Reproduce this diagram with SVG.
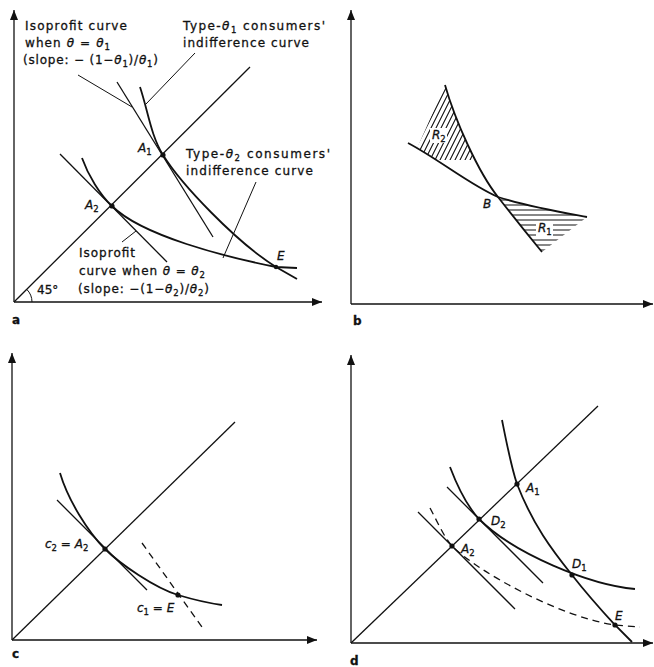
<svg xmlns="http://www.w3.org/2000/svg" width="654" height="667" viewBox="0 0 654 667">
<style>
.ax{stroke:#111;stroke-width:1.3;fill:none}
.cv{stroke:#111;stroke-width:1.8;fill:none}
.ln{stroke:#111;stroke-width:1.3;fill:none}
.ld{stroke:#111;stroke-width:1;fill:none}
.dsh{stroke-dasharray:7 5}
.h{stroke:#111;stroke-width:1.1}
.pt{fill:#111}
text{font-family:"DejaVu Sans","Liberation Sans",sans-serif;font-size:12px;fill:#111;stroke:#111;stroke-width:0.3}
.i{font-style:italic}
.s{font-size:8.5px}
.pl{font-weight:bold;font-size:12px}
</style>
<defs>
<marker id="arr" markerUnits="userSpaceOnUse" markerWidth="10" markerHeight="8" refX="10" refY="4" orient="auto">
<path d="M0,0 L10,4 L0,8 z" fill="#111"/>
</marker>
<clipPath id="cR2"><path d="M445,85 C455,120 478,172 498,197 C470,185 440,160 408,143 L445,85 Z"/></clipPath>
<clipPath id="cR2b"><path d="M448,78 L412,160 L520,160 L520,78 Z"/></clipPath>
<clipPath id="cR1"><path d="M498,197 C530,207 560,212 587,217 L542,252 C528,235 512,215 498,197 Z"/></clipPath>
</defs>
<rect width="654" height="667" fill="#fff"/>

<!-- Panel a -->
<g id="panel-a">
<g id="a-axes">
<line class="ax" x1="14" y1="302" x2="14" y2="10" marker-end="url(#arr)"/>
<line class="ax" x1="14" y1="302" x2="322" y2="302" marker-end="url(#arr)"/>
<path class="ld" d="M32,302 A18,18 0 0 0 26.7,289.3"/>
</g>
<g id="a-connectors">
<line class="ln" x1="14" y1="302" x2="250" y2="67"/>
<line class="ln" x1="117" y1="82" x2="213" y2="237"/>
<path class="cv" d="M140,87 C148,111 151,136 163,155 C181,184 236,242 276,267 L297,279"/>
<line class="ln" x1="60" y1="154" x2="167" y2="262"/>
<path class="cv" d="M82,158 C88,175 100,195 112,206 C142,236 226,257 276,267 L297,268"/>
<line class="ld" x1="78" y1="75" x2="132" y2="107"/>
<line class="ld" x1="195" y1="53" x2="146" y2="104"/>
<line class="ld" x1="256" y1="182" x2="223" y2="258"/>
<line class="ld" x1="122" y1="242" x2="136" y2="231"/>
</g>
<g id="a-A1"><circle class="pt" cx="163" cy="155" r="2.6"/><text x="138" y="152"><tspan class="i">A</tspan><tspan class="s" dy="3">1</tspan></text></g>
<g id="a-A2"><circle class="pt" cx="112" cy="206" r="2.6"/><text x="85" y="209"><tspan class="i">A</tspan><tspan class="s" dy="3">2</tspan></text></g>
<g id="a-E"><circle class="pt" cx="276" cy="267" r="2.2"/><text x="277" y="260" class="i">E</text></g>
<g id="a-labels">
<text x="25" y="30" textLength="102">Isoprofit curve</text>
<text x="25" y="47" textLength="85">when <tspan class="i">θ</tspan> = <tspan class="i">θ</tspan><tspan class="s" dy="3">1</tspan></text>
<text x="23" y="64" textLength="135">(slope: − (1−<tspan class="i">θ</tspan><tspan class="s" dy="3">1</tspan><tspan dy="-3">)/</tspan><tspan class="i">θ</tspan><tspan class="s" dy="3">1</tspan><tspan dy="-3">)</tspan></text>
<text x="183" y="30" textLength="142">Type-<tspan class="i">θ</tspan><tspan class="s" dy="3">1</tspan><tspan dy="-3"> consumers'</tspan></text>
<text x="183" y="47" textLength="126">indifference curve</text>
<text x="186" y="158" textLength="144">Type-<tspan class="i">θ</tspan><tspan class="s" dy="3">2</tspan><tspan dy="-3"> consumers'</tspan></text>
<text x="186" y="175" textLength="127">indifference curve</text>
<text x="79" y="257" textLength="56">Isoprofit</text>
<text x="79" y="275" textLength="126">curve when <tspan class="i">θ</tspan> = <tspan class="i">θ</tspan><tspan class="s" dy="3">2</tspan></text>
<text x="78" y="293" textLength="131">(slope: −(1−<tspan class="i">θ</tspan><tspan class="s" dy="3">2</tspan><tspan dy="-3">)/</tspan><tspan class="i">θ</tspan><tspan class="s" dy="3">2</tspan><tspan dy="-3">)</tspan></text>
<text x="37" y="294">45°</text>
<text x="12" y="324" class="pl">a</text>
</g>
</g>

<!-- Panel b -->
<g id="panel-b">
<g id="b-axes">
<line class="ax" x1="351" y1="304" x2="351" y2="10" marker-end="url(#arr)"/>
<line class="ax" x1="351" y1="304" x2="653" y2="304" marker-end="url(#arr)"/>
</g>
<g id="R2">
<g clip-path="url(#cR2)"><g clip-path="url(#cR2b)">
<path class="h" d="M380,210 l65,-130 M385,210 l65,-130 M390,210 l65,-130 M395,210 l65,-130 M400,210 l65,-130 M405,210 l65,-130 M410,210 l65,-130 M415,210 l65,-130 M420,210 l65,-130 M425,210 l65,-130 M430,210 l65,-130 M435,210 l65,-130 M440,210 l65,-130 M445,210 l65,-130 M450,210 l65,-130 M455,210 l65,-130 M460,210 l65,-130 M465,210 l65,-130 M470,210 l65,-130 M475,210 l65,-130 M480,210 l65,-130 M485,210 l65,-130 M490,210 l65,-130"/>
</g></g>
<rect x="430" y="128" width="17" height="15" fill="#fff"/>
<text x="432" y="139" class="i">R<tspan class="s" dy="3" font-style="normal">2</tspan></text>
</g>
<g id="R1">
<g clip-path="url(#cR1)">
<path class="h" d="M490,200 H600 M490,205 H600 M490,210 H600 M490,215 H600 M490,220 H600 M490,225 H600 M490,230 H600 M490,235 H600 M490,240 H600 M490,245 H600 M490,250 H600"/>
</g>
<rect x="536" y="221" width="17" height="15" fill="#fff"/>
<text x="538" y="232" class="i">R<tspan class="s" dy="3" font-style="normal">1</tspan></text>
</g>
<g id="b-connectors">
<path class="cv" d="M408,143 C440,160 470,185 498,197 C530,207 560,212 587,217"/>
<path class="cv" d="M445,85 C455,120 478,172 498,197 C512,215 528,235 542,252"/>
</g>
<g id="B"><text x="483" y="208" class="i">B</text></g>
<text x="353" y="325" class="pl">b</text>
</g>

<!-- Panel c -->
<g id="panel-c">
<g id="c-axes">
<line class="ax" x1="12" y1="640" x2="12" y2="353" marker-end="url(#arr)"/>
<line class="ax" x1="12" y1="640" x2="317" y2="640" marker-end="url(#arr)"/>
</g>
<g id="c-connectors">
<line class="ln" x1="12" y1="640" x2="235" y2="422"/>
<line class="ln" x1="57" y1="500" x2="147" y2="590"/>
<path class="cv" d="M60,473 C68,500 88,532 105,549 C120,564 155,588 178,595 C193,599.5 208,603 222,605"/>
<line class="ln dsh" x1="142" y1="543" x2="202" y2="627"/>
</g>
<g id="c-A2"><circle class="pt" cx="105" cy="549" r="2.6"/><text x="45" y="548"><tspan class="i">c</tspan><tspan class="s" dy="3">2</tspan><tspan dy="-3"> = </tspan><tspan class="i">A</tspan><tspan class="s" dy="3">2</tspan></text></g>
<g id="c-E"><circle class="pt" cx="178" cy="595" r="2.6"/><text x="137" y="612"><tspan class="i">c</tspan><tspan class="s" dy="3">1</tspan><tspan dy="-3"> = </tspan><tspan class="i">E</tspan></text></g>
<text x="12" y="658" class="pl">c</text>
</g>

<!-- Panel d -->
<g id="panel-d">
<g id="d-axes">
<line class="ax" x1="351" y1="643" x2="351" y2="355" marker-end="url(#arr)"/>
<line class="ax" x1="351" y1="643" x2="653" y2="643" marker-end="url(#arr)"/>
</g>
<g id="d-connectors">
<line class="ln" x1="351" y1="643" x2="598" y2="406"/>
<path class="cv" d="M502,420 C507,445 511,466 517,484 C533,525 552,550 572,575 C590,598 603,612 615,625 L632,642"/>
<path class="cv" d="M450,467 C458,488 466,505 479,519 C514,554 590,585 635,589"/>
<line class="ln" x1="447" y1="487" x2="543" y2="583"/>
<line class="ln" x1="418" y1="512" x2="515" y2="609"/>
<path class="ln dsh" d="M430,508 C438,523 444,537 452,546 C478,572 560,617 615,625 L640,627"/>
</g>
<g id="d-A1"><circle class="pt" cx="517" cy="484" r="2.6"/><text x="526" y="492"><tspan class="i">A</tspan><tspan class="s" dy="3">1</tspan></text></g>
<g id="d-D2"><circle class="pt" cx="479" cy="519" r="2.6"/><text x="491" y="525"><tspan class="i">D</tspan><tspan class="s" dy="3">2</tspan></text></g>
<g id="d-A2"><circle class="pt" cx="452" cy="546" r="2.6"/><text x="461" y="553"><tspan class="i">A</tspan><tspan class="s" dy="3">2</tspan></text></g>
<g id="d-D1"><circle class="pt" cx="572" cy="575" r="2.6"/><text x="572" y="568"><tspan class="i">D</tspan><tspan class="s" dy="3">1</tspan></text></g>
<g id="d-E"><circle class="pt" cx="615" cy="625" r="2.6"/><text x="615" y="620" class="i">E</text></g>
<text x="350" y="665" class="pl">d</text>
</g>
</svg>
